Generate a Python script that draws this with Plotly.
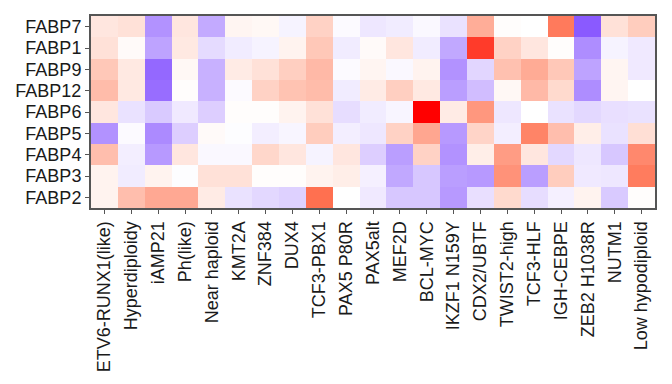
import plotly.graph_objects as go

subtypes = ["ETV6-RUNX1(like)", "Hyperdiploidy", "iAMP21", "Ph(like)", "Near haploid",
            "KMT2A", "ZNF384", "DUX4", "TCF3-PBX1", "PAX5 P80R", "PAX5alt", "MEF2D",
            "BCL-MYC", "IKZF1 N159Y", "CDX2/UBTF", "TWIST2-high", "TCF3-HLF",
            "IGH-CEBPE", "ZEB2 H1038R", "NUTM1", "Low hypodiploid"]
genes = ["FABP7", "FABP1", "FABP9", "FABP12", "FABP6", "FABP5", "FABP4", "FABP3", "FABP2"]

FABP7 = [0.10, 0.12, -0.45, 0.10, -0.35, 0.04, 0.03, -0.05, 0.18, -0.02, -0.10, -0.08, -0.03, -0.12, 0.33, 0.01, 0.00, 0.54, -0.68, 0.12, 0.20]
FABP1 = [0.12, 0.02, -0.38, 0.09, -0.15, -0.08, -0.05, 0.05, 0.22, -0.08, 0.02, 0.10, -0.08, -0.36, 0.78, 0.18, 0.10, 0.01, -0.47, -0.05, -0.09]
FABP9 = [0.22, 0.09, -0.62, 0.03, -0.32, 0.08, 0.12, 0.19, 0.28, -0.02, 0.04, -0.03, 0.05, -0.45, -0.17, 0.25, 0.34, 0.22, -0.38, 0.04, -0.09]
FABP12 = [0.27, 0.09, -0.60, 0.01, -0.32, -0.02, 0.18, 0.24, 0.27, -0.08, 0.08, 0.19, 0.09, -0.40, -0.27, 0.03, 0.28, 0.15, -0.47, 0.04, 0.00]
FABP6 = [0.10, -0.12, -0.22, -0.09, -0.20, 0.01, 0.01, 0.05, 0.12, -0.14, -0.08, -0.04, 1.00, 0.08, 0.42, -0.10, 0.00, -0.12, -0.16, -0.13, -0.12]
FABP5 = [-0.45, -0.02, -0.48, -0.20, 0.02, -0.01, -0.07, -0.04, 0.20, -0.07, -0.10, 0.18, 0.36, -0.42, 0.17, -0.07, 0.50, 0.26, 0.07, -0.12, 0.13]
FABP4 = [0.26, -0.07, -0.42, 0.10, -0.03, -0.03, 0.16, 0.10, -0.05, 0.10, -0.20, -0.40, 0.18, -0.45, 0.07, 0.40, 0.10, -0.16, -0.10, -0.23, 0.48]
FABP3 = [0.05, -0.08, 0.05, -0.01, 0.12, 0.12, 0.01, 0.01, 0.05, 0.07, -0.06, -0.36, -0.23, -0.40, -0.42, 0.44, -0.40, 0.20, -0.09, -0.10, 0.53]
FABP2 = [0.05, 0.26, 0.35, 0.35, 0.08, -0.12, -0.16, -0.19, 0.58, 0.00, -0.09, -0.23, -0.23, -0.42, -0.13, 0.15, -0.14, -0.06, 0.05, -0.22, 0.01]

z = [FABP7, FABP1, FABP9, FABP12, FABP6, FABP5, FABP4, FABP3, FABP2]

colorscale = [[0.0, "rgb(83,12,255)"], [0.5, "rgb(255,255,255)"],
              [0.6, "rgb(255,205,190)"], [0.79, "rgb(255,112,80)"], [1.0, "rgb(255,0,0)"]]

fig = go.Figure(go.Heatmap(z=z, x=subtypes, y=genes, colorscale=colorscale,
                           zmin=-1, zmax=1, showscale=False, xgap=0, ygap=0))

font_family = "Liberation Sans, Arial, sans-serif"
fig.update_layout(
    width=672, height=384,
    margin=dict(l=91, r=17, t=16, b=176, pad=0),
    paper_bgcolor="white", plot_bgcolor="white",
    font=dict(family=font_family, color="#1a1a1a"),
)
fig.update_xaxes(tickangle=-90, tickfont=dict(size=18), showline=True, mirror=True,
                 linecolor="#555555", linewidth=2, ticks="outside", ticklen=4,
                 tickcolor="#555555", showgrid=False, zeroline=False, automargin=False,
                 tickmode="array", tickvals=subtypes, ticktext=subtypes)
fig.update_yaxes(autorange="reversed", tickfont=dict(size=18), showline=True, mirror=True,
                 linecolor="#555555", linewidth=2, ticks="outside", ticklen=4,
                 tickcolor="#555555", showgrid=False, zeroline=False, automargin=False,
                 tickmode="array", tickvals=genes, ticktext=genes)

fig.write_html("out.html", config={"displayModeBar": False},
               post_script="document.body.style.margin='0';")
